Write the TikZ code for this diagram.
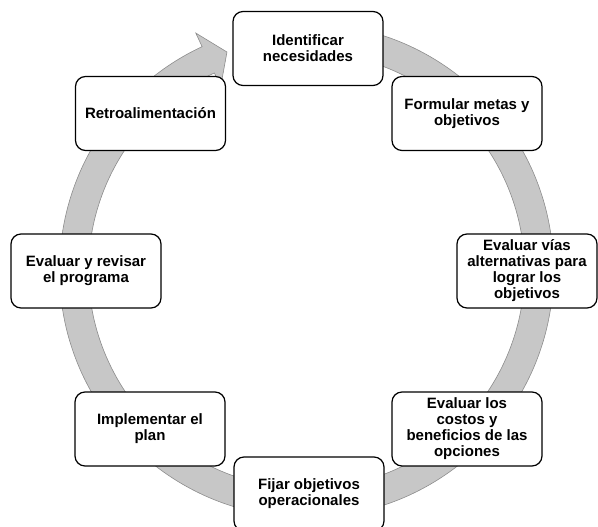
\documentclass[tikz,border=0pt]{standalone}
\usepackage{fontspec}
\setmainfont{Liberation Sans}
\begin{document}
\begin{tikzpicture}[x=1pt,y=-1pt,
  box/.style={draw=black, line width=1.2pt, fill=white, rounded corners=10pt,
    minimum width=150pt, minimum height=74pt, align=center, inner sep=2pt,
    font=\fontsize{15}{16}\selectfont\bfseries},
  band/.style={fill=black!22, draw=black!45, line width=0.6pt}]
\useasboundingbox (0,0) rectangle (598,527);
\clip (0,0) rectangle (598,527);
\begin{scope}[shift={(306.5,270.5)}, yscale=-1]
  \draw[band] (90:247) arc[start angle=90, end angle=-245, radius=247]
    -- (-245:262) -- (-250:232.5) -- (-245:203) -- (-245:218)
    arc[start angle=-245, end angle=90, radius=218] -- cycle;
\end{scope}
\node[box] (n1) at (308,48.5) {Identificar\\necesidades};
\node[box] (n2) at (467,113.5) {Formular metas y\\objetivos};
\node[box, minimum width=140pt] (n3) at (527,271) {Evaluar vías\\alternativas para\\lograr los\\objetivos};
\node[box] (n4) at (467,429) {Evaluar los\\costos y\\beneficios de las\\opciones};
\node[box] (n5) at (309,494) {Fijar objetivos\\operacionales};
\node[box] (n6) at (150,429) {Implementar el\\plan};
\node[box] (n7) at (86,271) {Evaluar y revisar\\el programa};
\node[box] (n8) at (150.5,113.5) {Retroalimentación};
\end{tikzpicture}
\end{document}
